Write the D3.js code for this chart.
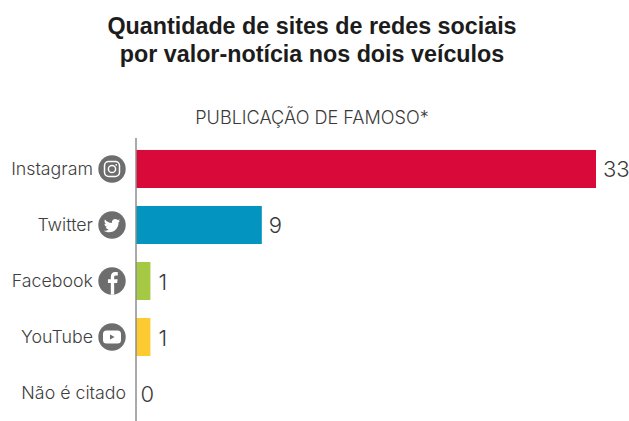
<!DOCTYPE html>
<html lang="pt">
<head>
<meta charset="utf-8">
<title>Quantidade de sites de redes sociais</title>
<script src="https://cdn.jsdelivr.net/npm/d3@7"></script>
<style>
  html, body { margin: 0; padding: 0; background: #fff; }
  svg { display: block; }
  text { font-family: "Inter", "Liberation Sans", sans-serif; font-weight: 300; }
  .title { font-family: "Liberation Sans", sans-serif; font-weight: 700; font-size: 23.3px; fill: #1c1c1c; }
</style>
</head>
<body>
<svg id="chart" width="629" height="421"></svg>
<script>
// Chart content
const titleLines = ["Quantidade de sites de redes sociais", "por valor-notícia nos dois veículos"];
const subtitle = "PUBLICAÇÃO DE FAMOSO*";
const categories = ["Instagram", "Twitter", "Facebook", "YouTube", "Não é citado"];
const counts = [33, 9, 1, 1, 0];
const barColors = ["#d90a3a", "#0395c0", "#a6c944", "#fccb32", "#999999"];
const iconKinds = ["instagram", "twitter", "facebook", "youtube", null];

const svg = d3.select("#chart");

const x = d3.scaleLinear().domain([0, 33]).range([136.5, 596]);
const y = d3.scaleBand().domain(categories).range([141, 421]).paddingInner(0.321).paddingOuter(0.16);

// Title block
svg.selectAll("text.title").data(titleLines).join("text")
  .attr("class", "title")
  .attr("x", 312).attr("y", (d, i) => 34 + i * 28)
  .attr("text-anchor", "middle")
  .text(d => d);

svg.append("text")
  .attr("x", 312).attr("y", 124)
  .attr("text-anchor", "middle")
  .attr("font-size", 18.1)
  .attr("fill", "#3a3a3a")
  .text(subtitle);

// Bars
const rows = categories.map((c, i) => ({ c, v: counts[i], color: barColors[i], icon: iconKinds[i] }));

svg.selectAll("rect.bar").data(rows).join("rect")
  .attr("class", "bar")
  .attr("x", x(0))
  .attr("y", d => y(d.c))
  .attr("width", d => x(d.v) - x(0))
  .attr("height", y.bandwidth())
  .attr("fill", d => d.color);

// Baseline
svg.append("line")
  .attr("x1", 136).attr("x2", 136)
  .attr("y1", 138).attr("y2", 421)
  .attr("stroke", "#555").attr("stroke-width", 1);

// Value labels
svg.selectAll("text.value").data(rows).join("text")
  .attr("class", "value")
  .attr("x", d => x(d.v) + (d.v === 0 ? 4 : d.v === 1 ? 8 : 7))
  .attr("y", d => y(d.c) + y.bandwidth() / 2 + 8.5)
  .attr("font-size", 22)
  .attr("fill", "#3a3a3a")
  .text(d => d.v);

// Category labels
svg.selectAll("text.cat").data(rows).join("text")
  .attr("class", "cat")
  .attr("x", d => d.icon ? 93 : 126)
  .attr("y", d => y(d.c) + y.bandwidth() / 2 + 6)
  .attr("text-anchor", "end")
  .attr("font-size", 17.8)
  .attr("fill", "#3f3f3f")
  .text(d => d.c);

// Social network badges: a grey disc with a white glyph
const badgeGrey = "#6d6d6d";
const glyphs = {
  instagram(g) {
    g.append("rect").attr("x", -7.5).attr("y", -7.5).attr("width", 15).attr("height", 15).attr("rx", 4.2)
      .attr("fill", "none").attr("stroke", "#fff").attr("stroke-width", 1.5);
    g.append("circle").attr("r", 3.6).attr("fill", "none").attr("stroke", "#fff").attr("stroke-width", 1.5);
    g.append("circle").attr("cx", 4.2).attr("cy", -4.2).attr("r", 0.9).attr("fill", "#fff");
  },
  twitter(g) {
    g.append("path").attr("fill", "#fff").attr("transform", "scale(0.78) translate(-12,-12)")
      .attr("d", "M22.5 6.2c-.8.4-1.6.6-2.5.7.9-.5 1.6-1.4 1.9-2.4-.8.5-1.8.9-2.7 1-.8-.8-1.9-1.3-3.1-1.3-2.4 0-4.3 1.9-4.3 4.3 0 .3 0 .7.1 1-3.6-.2-6.7-1.9-8.9-4.5-.4.6-.6 1.4-.6 2.2 0 1.5.8 2.8 1.9 3.6-.7 0-1.4-.2-1.9-.5v.1c0 2.1 1.5 3.8 3.4 4.2-.4.1-.7.2-1.1.2-.3 0-.5 0-.8-.1.5 1.7 2.1 3 4 3-1.5 1.2-3.3 1.8-5.3 1.8-.3 0-.7 0-1-.1 1.9 1.2 4.2 1.9 6.6 1.9 7.9 0 12.2-6.5 12.2-12.2v-.6c.8-.6 1.5-1.4 2-2.2z");
  },
  facebook(g) {
    g.append("path").attr("fill", "#fff").attr("transform", "translate(0.5,0) scale(0.88,0.9)")
      .attr("d", "M-1.9 15.5V2.2H-5.2V-2H-1.9V-4.8C-1.9-8.2 0-10 3.1-10 4.4-10 5.6-9.9 6-9.8V-6H3.8C2.2-6 1.9-5.2 1.9-4.1V-2H5.8L5.3 2.2H1.9V15.5Z");
  },
  youtube(g) {
    g.append("rect").attr("x", -9).attr("y", -6.5).attr("width", 18).attr("height", 13).attr("rx", 3.5).attr("fill", "#fff");
    g.append("path").attr("d", "M-2-2.6L2.6 0L-2 2.6Z").attr("fill", badgeGrey);
  }
};

const badges = svg.selectAll("g.badge").data(rows.filter(d => d.icon)).join("g")
  .attr("class", "badge")
  .attr("transform", d => `translate(112,${y(d.c) + y.bandwidth() / 2})`);

badges.append("clipPath").attr("id", d => "clip-" + d.icon)
  .append("circle").attr("r", 13.7);
badges.append("circle").attr("r", 13.7).attr("fill", badgeGrey);
badges.append("g")
  .attr("clip-path", d => `url(#clip-${d.icon})`)
  .each(function (d) { glyphs[d.icon](d3.select(this)); });
</script>
</body>
</html>
